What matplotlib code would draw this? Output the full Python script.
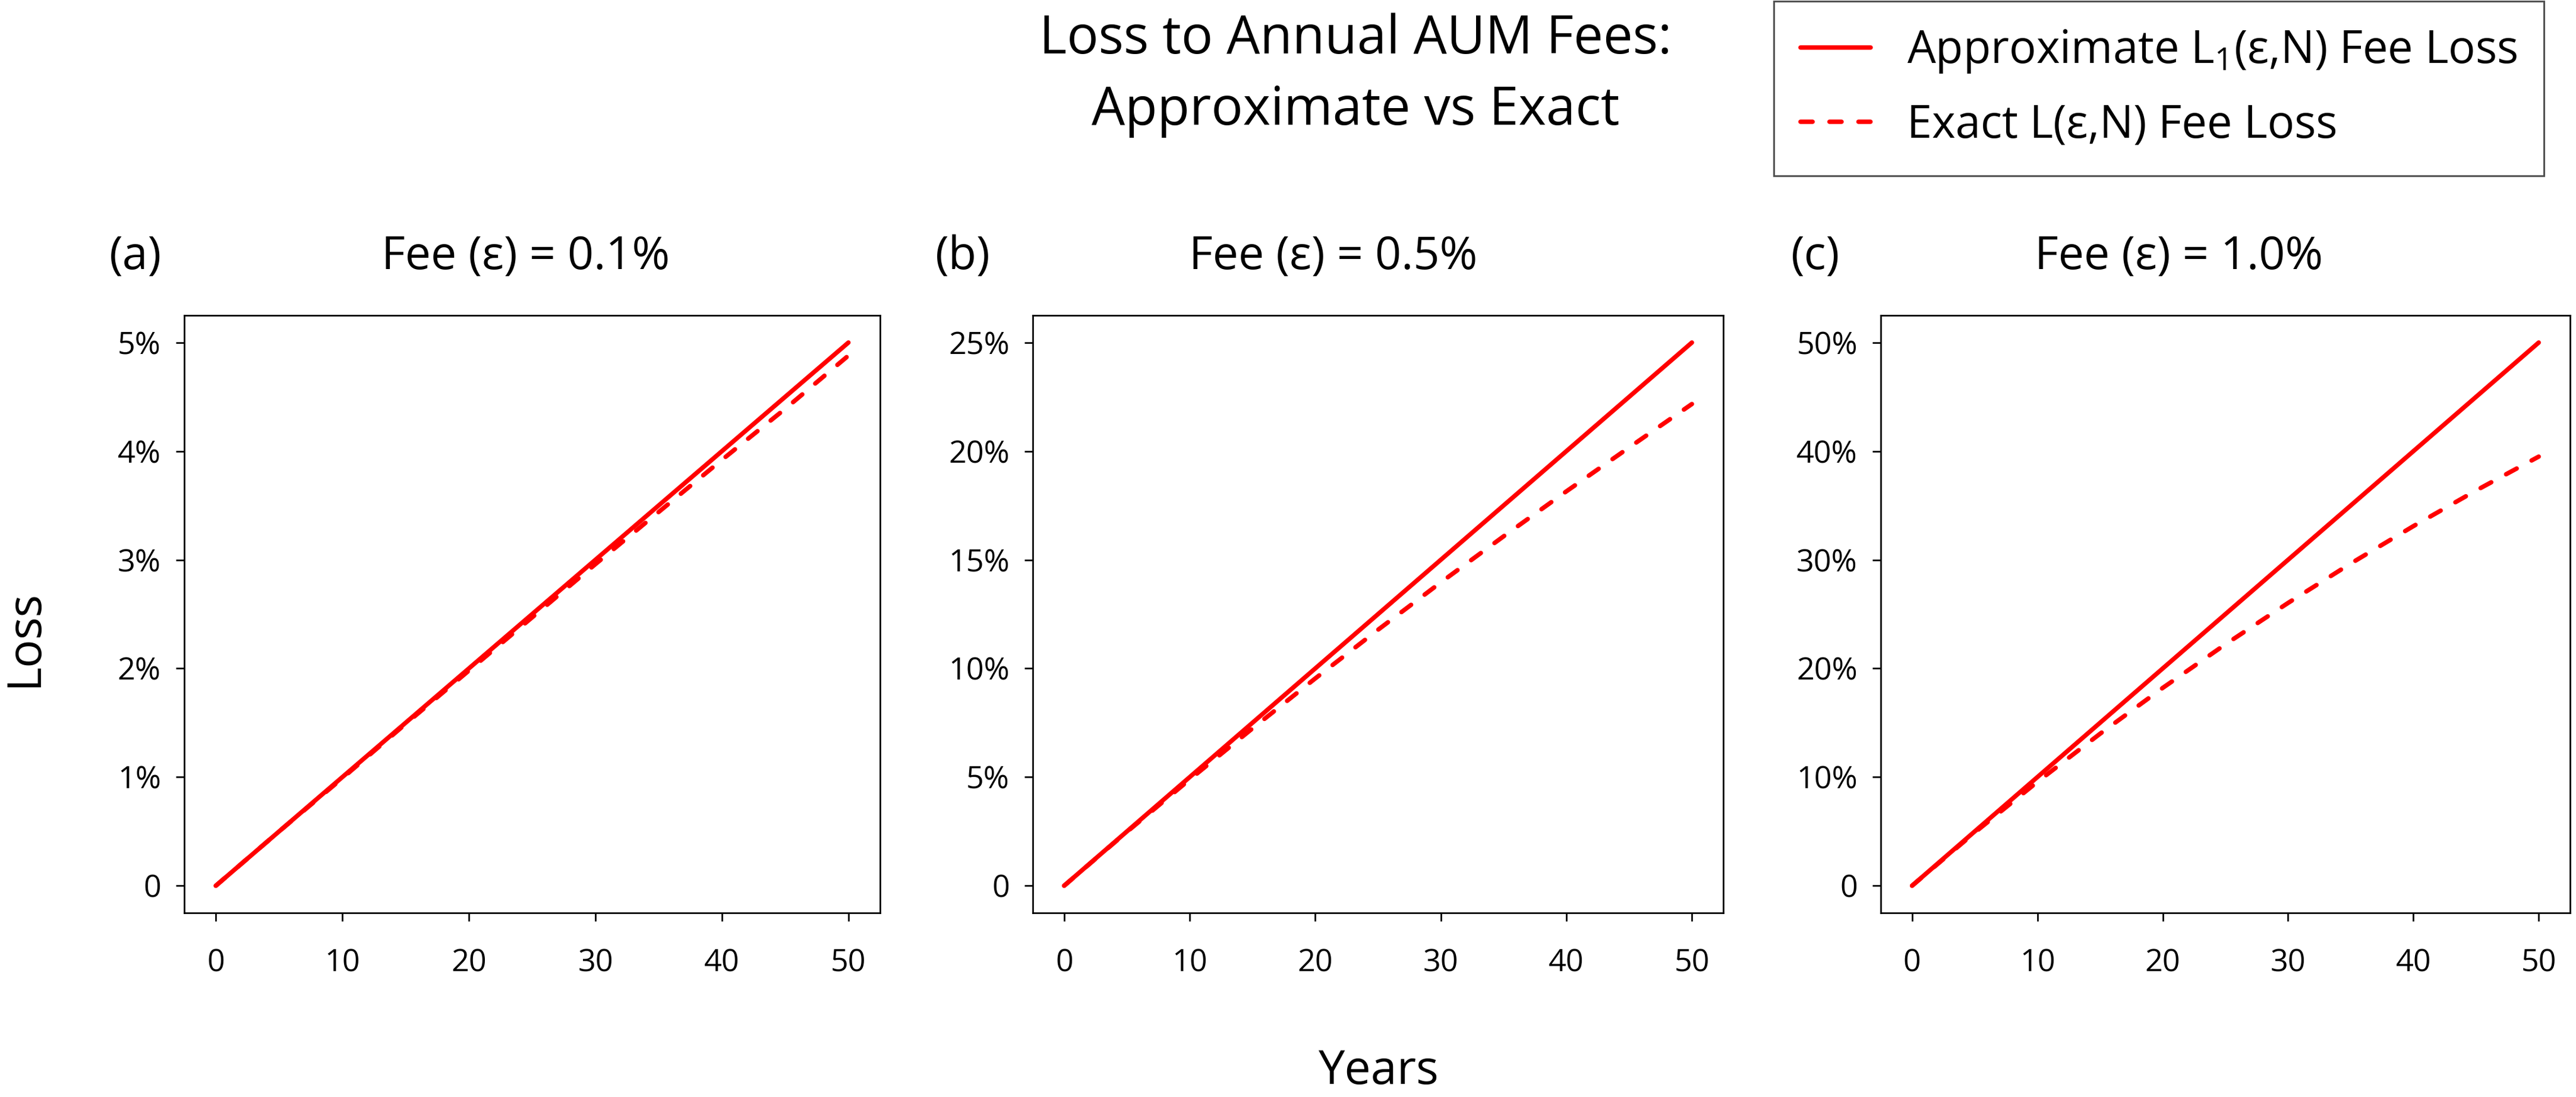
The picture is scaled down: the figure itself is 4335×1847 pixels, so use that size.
import matplotlib
matplotlib.use("Agg")
import matplotlib.pyplot as plt
from matplotlib.lines import Line2D

#--Data--#
years = [0, 5, 10, 15, 20, 25, 30, 35, 40, 45, 50]

approx_01 = [0, 0.5, 1.0, 1.5, 2.0, 2.5, 3.0, 3.5, 4.0, 4.5, 5.0]
exact_01 = [0, 0.50, 0.99, 1.49, 1.98, 2.47, 2.96, 3.44, 3.92, 4.39, 4.88]

approx_05 = [0, 2.5, 5.0, 7.5, 10.0, 12.5, 15.0, 17.5, 20.0, 22.5, 25.0]
exact_05 = [0, 2.48, 4.89, 7.24, 9.54, 11.78, 13.96, 16.08, 18.15, 20.17, 22.17]

approx_10 = [0, 5, 10, 15, 20, 25, 30, 35, 40, 45, 50]
exact_10 = [0, 4.90, 9.56, 13.99, 18.21, 22.22, 26.03, 29.66, 33.10, 36.38, 39.50]

fees = ["0.1%", "0.5%", "1.0%"]
letters = ["(a)", "(b)", "(c)"]
ytick_sets = [[0, 1, 2, 3, 4, 5], [0, 5, 10, 15, 20, 25], [0, 10, 20, 30, 40, 50]]
xticks = [0, 10, 20, 30, 40, 50]

#--Figure setup--#
W, H, DPI = 4335, 1847, 300
plt.rcParams['font.family'] = ['Open Sans', 'DejaVu Sans']
plt.rcParams['mathtext.fontset'] = 'custom'
plt.rcParams['mathtext.rm'] = 'Open Sans'
fig = plt.figure(figsize=(W / DPI, H / DPI), dpi=DPI)

def px_axes(l, r, t, b):
    return fig.add_axes([l / W, 1 - b / H, (r - l) / W, (b - t) / H])

def fig_text(x, y, s, **kw):
    fig.text(x / W, 1 - y / H, s, **kw)

panels = [(310, 1481), (1738, 2900), (3165, 4325)]
title_x = [885, 2244, 3667]
letter_x = [228, 1620, 3055]
series = [(approx_01, exact_01), (approx_05, exact_05), (approx_10, exact_10)]

red = '#ff0000'
lw = 1.8
dash = (0, (2.7, 3.8))

for i, (l, r) in enumerate(panels):
    ax = px_axes(l, r, 531, 1537)
    approx, exact = series[i]
    ax.plot(years, approx, color=red, lw=lw, solid_capstyle='round')
    ax.plot(years, exact, color=red, lw=lw, linestyle=dash, dash_capstyle='round')
    top = ytick_sets[i][-1]
    ax.set_xlim(-2.5, 52.5)
    ax.set_ylim(-0.05 * top, 1.05 * top)
    ax.set_xticks(xticks)
    ax.set_xticklabels([str(v) for v in xticks])
    ax.set_yticks(ytick_sets[i])
    ax.set_yticklabels(["0"] + [f"{v}%" for v in ytick_sets[i][1:]])
    ax.tick_params(direction='out', length=3.4, width=0.65, labelsize=12.5, pad=6)
    ax.tick_params(axis='x', pad=11)
    for sp in ax.spines.values():
        sp.set_linewidth(0.65)
    fig_text(title_x[i], 453, f"Fee (\u03b5) = {fees[i]}", ha='center', va='baseline', fontsize=18.5)
    fig_text(letter_x[i], 453, letters[i], ha='center', va='baseline', fontsize=18.5)

#--Titles and labels--#
fig_text(2281, 90, "Loss to Annual AUM Fees:", ha='center', va='baseline', fontsize=21.3)
fig_text(2281, 210, "Approximate vs Exact", ha='center', va='baseline', fontsize=21.3)
fig_text(2320, 1825, "Years", ha='center', va='baseline', fontsize=19)
fig.text(42 / W, 1 - 1075 / H, "Loss", rotation=90, ha='center', va='center', fontsize=19)

#--Legend--#
handles = [Line2D([], [], color=red, lw=lw, solid_capstyle='round'),
           Line2D([], [], color=red, lw=lw, linestyle=dash, dash_capstyle='round')]
labels = ["Approximate L$_\\mathregular{1}$(\u03b5,N) Fee Loss", "Exact L(\u03b5,N) Fee Loss"]
leg = fig.legend(handles, labels, loc='upper right', bbox_to_anchor=(4281 / W, 1 - 2 / H),
                 fontsize=18.2, frameon=True, fancybox=False, edgecolor='#222222',
                 handlelength=1.55, handletextpad=0.8, borderpad=0.6, labelspacing=0.62,
                 borderaxespad=0)
leg.get_frame().set_linewidth(0.7)

fig.savefig("out.png", dpi=DPI, facecolor='white')
